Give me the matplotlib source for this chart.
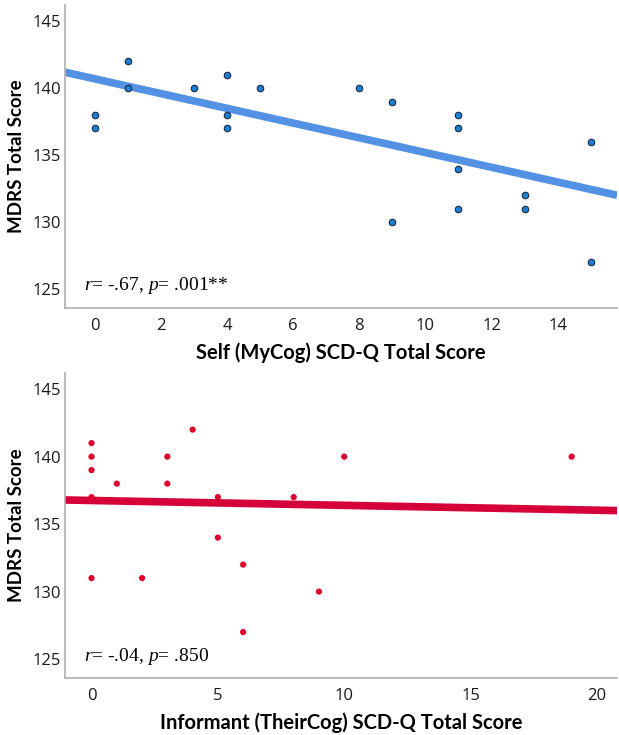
import matplotlib
matplotlib.use("Agg")
import matplotlib.pyplot as plt
import numpy as np

# Top panel: Self (MyCog)
self_x = [0, 0, 1, 1, 3, 4, 4, 4, 5, 8, 9, 9, 11, 11, 11, 11, 13, 13, 15, 15]
self_y = [138, 137, 142, 140, 140, 141, 138, 137, 140, 140, 139, 130, 138, 137, 134, 131, 132, 131, 136, 127]
self_fit = [140.7, -0.55]  # intercept, slope

# Bottom panel: Informant (TheirCog)
inf_x = [0, 0, 0, 0, 0, 1, 2, 3, 3, 4, 5, 5, 6, 6, 8, 9, 10, 19]
inf_y = [141, 140, 139, 137, 131, 138, 131, 140, 138, 142, 137, 134, 132, 127, 137, 130, 140, 140]
inf_fit = [136.75, -0.036]

yticks = [125, 130, 135, 140, 145]
self_xticks = [0, 2, 4, 6, 8, 10, 12, 14]
inf_xticks = [0, 5, 10, 15, 20]

plt.rcParams["font.family"] = ["Lato", "DejaVu Sans"]
plt.rcParams["mathtext.fontset"] = "custom"
plt.rcParams["mathtext.rm"] = "Liberation Serif"
plt.rcParams["mathtext.it"] = "Liberation Serif:italic"

fig = plt.figure(figsize=(6.19, 7.35), dpi=100)
ax1 = fig.add_axes([0.105, 0.581, 0.892, 0.412])
ax2 = fig.add_axes([0.105, 0.0776, 0.892, 0.415])

def style(ax, xlim, xticks, xlabel):
    ax.set_xlim(*xlim)
    ax.set_ylim(123.6, 146.2)
    ax.set_yticks(yticks)
    ax.set_xticks(xticks)
    for s in ["top", "right"]:
        ax.spines[s].set_visible(False)
    for s in ["left", "bottom"]:
        ax.spines[s].set_color("#b0b0b0")
        ax.spines[s].set_linewidth(1.2)
    ax.tick_params(length=0, colors="#1a1a1a")
    ax.tick_params(axis="y", pad=3)
    ax.tick_params(axis="x", pad=7)
    for lab in ax.get_xticklabels() + ax.get_yticklabels():
        lab.set_family("Open Sans")
        lab.set_fontsize(12)
    ax.set_ylabel("MDRS Total Score", fontsize=13.5, fontweight="bold")
    ax.yaxis.set_label_coords(-0.072, 0.5)
    ax.set_xlabel(xlabel, fontsize=14.5, fontweight="bold", labelpad=6)

# Top
style(ax1, (-0.9, 15.8), self_xticks, "Self (MyCog) SCD-Q Total Score")
xl = np.array(ax1.get_xlim())
ax1.plot(xl, self_fit[0] + self_fit[1] * xl, color="#5291e3", lw=5.5, solid_capstyle="butt", zorder=2)
ax1.scatter(self_x, self_y, s=22, color="#1b7fd6", edgecolor="#1a2a44", linewidth=0.8, zorder=3)
ax1.text(0.035, 0.06, r"$\mathit{r}$= -.67, $\mathit{p}$= .001**", transform=ax1.transAxes,
         fontsize=14, family="Liberation Serif")

# Bottom
style(ax2, (-1.05, 20.8), inf_xticks, "Informant (TheirCog) SCD-Q Total Score")
xl = np.array(ax2.get_xlim())
ax2.plot(xl, inf_fit[0] + inf_fit[1] * xl, color="#d5003a", lw=5.5, solid_capstyle="butt", zorder=2)
ax2.scatter(inf_x, inf_y, s=20, color="#e0002e", edgecolor="none", zorder=3)
ax2.text(0.035, 0.055, r"$\mathit{r}$= -.04, $\mathit{p}$= .850", transform=ax2.transAxes,
         fontsize=14, family="Liberation Serif")

fig.savefig("out.png", dpi=100)
